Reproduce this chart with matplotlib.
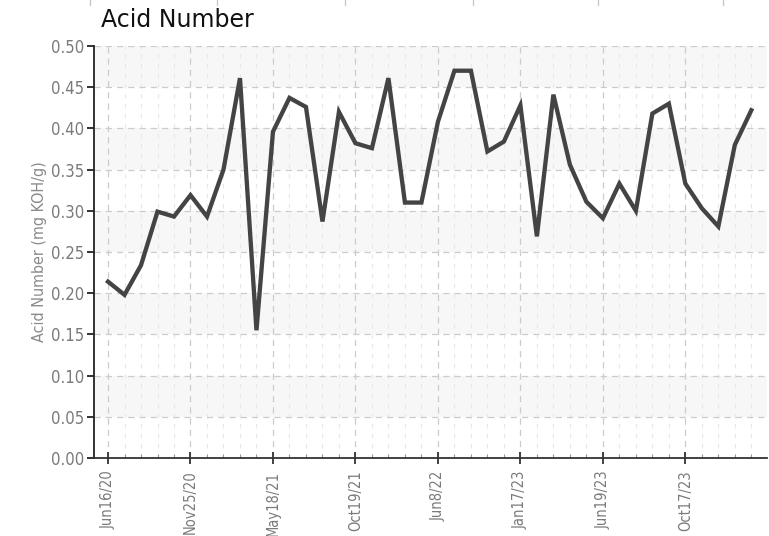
import matplotlib
matplotlib.use("Agg")
import matplotlib.pyplot as plt
from matplotlib.ticker import FixedLocator
from matplotlib.lines import Line2D

# ---- data ----
acid_values = [0.214, 0.198, 0.234, 0.299, 0.293, 0.319, 0.293, 0.350, 0.461, 0.155,
               0.396, 0.437, 0.426, 0.287, 0.420, 0.382, 0.376, 0.461, 0.310, 0.310,
               0.408, 0.470, 0.470, 0.372, 0.384, 0.428, 0.269, 0.441, 0.356, 0.311,
               0.291, 0.333, 0.300, 0.418, 0.430, 0.333, 0.303, 0.281, 0.380, 0.422]
tick_labels = ["Jun16/20", "Nov25/20", "May18/21", "Oct19/21",
               "Jun8/22", "Jan17/23", "Jun19/23", "Oct17/23"]
title = "Acid Number"
ylabel = "Acid Number (mg KOH/g)"

narrow = ["DejaVu Sans"]
label_color = "#7a7a7a"

fig = plt.figure(figsize=(7.69, 5.36), dpi=100)
ax = fig.add_axes([94 / 769, 78 / 536, 673 / 769, 412 / 536])

n = len(acid_values)
x = list(range(n))

for lo in [0.05, 0.15, 0.25, 0.35, 0.45]:
    ax.axhspan(lo, lo + 0.05, color="#f7f7f7", zorder=0, lw=0)

ax.plot(x, acid_values, color="#444444", lw=3.1, solid_joinstyle="miter", zorder=3)

ax.set_xlim(-0.85, 39.95)
ax.set_ylim(0, 0.5)
ax.set_yticks([i * 0.05 for i in range(11)])
ax.set_yticklabels([f"{i * 0.05:.2f}" for i in range(11)])

major_pos = list(range(0, n, 5))
ax.xaxis.set_major_locator(FixedLocator(major_pos))
ax.xaxis.set_minor_locator(FixedLocator([i for i in x if i % 5 != 0]))
ax.set_xticklabels(tick_labels, rotation=90)

ax.grid(True, which="major", axis="both", color="#cccccc", ls=(0, (5, 4)), lw=0.9, zorder=1)
ax.grid(True, which="minor", axis="x", color="#e8e8e8", ls=(0, (4, 5)), lw=0.8, zorder=1)

for s in ["top", "right"]:
    ax.spines[s].set_visible(False)
ax.spines["left"].set_color("#222222")
ax.spines["bottom"].set_color("#333333")
ax.spines["left"].set_linewidth(1.3)
ax.spines["bottom"].set_linewidth(1.3)

ax.tick_params(axis="y", length=5, width=1.3, color="#222222", labelcolor=label_color,
               labelsize=12, pad=2)
ax.tick_params(axis="x", which="major", direction="inout", length=8, width=1.3,
               color="#333333", labelcolor=label_color, labelsize=10.5, pad=5)
ax.tick_params(axis="x", which="minor", direction="in", length=3, width=0.8, color="#999999")
for lab in ax.get_xticklabels() + ax.get_yticklabels():
    lab.set_family(narrow)
    lab.set_fontstretch("condensed")

ax.set_ylabel(ylabel, color="#8a8a8a", fontsize=11.5, family=narrow,
              fontstretch="condensed", labelpad=3)

fig.text(101 / 769, 1 - 20 / 536, title, fontsize=17, color="#111111",
         ha="left", va="center", family=["DejaVu Sans"])

for px in [90, 217, 345, 473, 598, 723]:
    fig.add_artist(Line2D([px / 769, px / 769], [1.0, 1 - 5 / 536],
                          transform=fig.transFigure, color="#c8c8c8", lw=1.0))

fig.savefig("out.png", dpi=100)
